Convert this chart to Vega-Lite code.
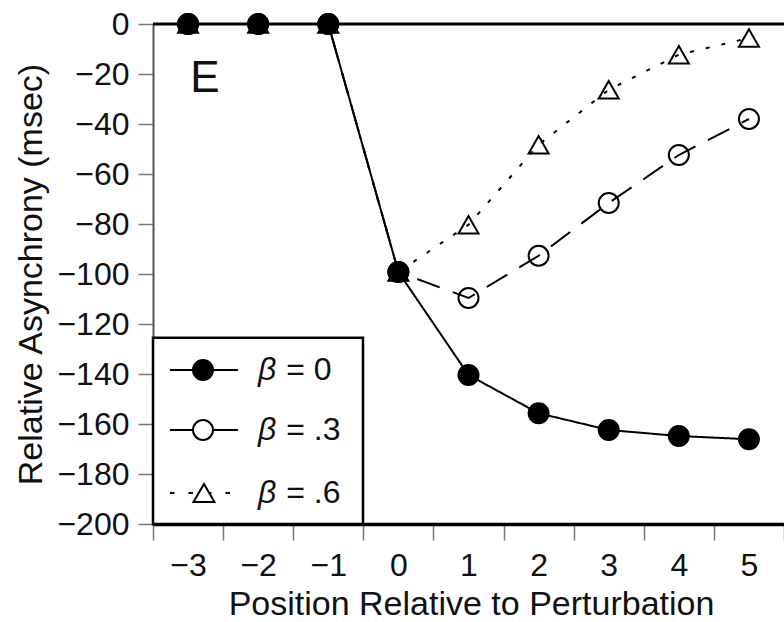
{
  "$schema": "https://vega.github.io/schema/vega-lite/v6.json",
  "width": 631,
  "height": 500,
  "autosize": {"type": "none"},
  "padding": {"left": 153, "top": 24, "right": 0, "bottom": 98},
  "background": "white",
  "config": {"view": {"stroke": null}, "font": "Liberation Sans"},
  "data": {
    "values": [
      {"x": -3, "y": 0, "beta": ".6"},
      {"x": -2, "y": 0, "beta": ".6"},
      {"x": -1, "y": 0, "beta": ".6"},
      {"x": 0, "y": -99.2, "beta": ".6"},
      {"x": 1, "y": -80.3, "beta": ".6"},
      {"x": 2, "y": -48.3, "beta": ".6"},
      {"x": 3, "y": -26.3, "beta": ".6"},
      {"x": 4, "y": -12.3, "beta": ".6"},
      {"x": 5, "y": -5.6, "beta": ".6"},
      {"x": -3, "y": 0, "beta": ".3"},
      {"x": -2, "y": 0, "beta": ".3"},
      {"x": -1, "y": 0, "beta": ".3"},
      {"x": 0, "y": -99.2, "beta": ".3"},
      {"x": 1, "y": -109.6, "beta": ".3"},
      {"x": 2, "y": -92.7, "beta": ".3"},
      {"x": 3, "y": -71.6, "beta": ".3"},
      {"x": 4, "y": -52.4, "beta": ".3"},
      {"x": 5, "y": -38, "beta": ".3"},
      {"x": -3, "y": 0, "beta": "0"},
      {"x": -2, "y": 0, "beta": "0"},
      {"x": -1, "y": 0, "beta": "0"},
      {"x": 0, "y": -99.2, "beta": "0"},
      {"x": 1, "y": -140.4, "beta": "0"},
      {"x": 2, "y": -155.7, "beta": "0"},
      {"x": 3, "y": -162.4, "beta": "0"},
      {"x": 4, "y": -164.8, "beta": "0"},
      {"x": 5, "y": -166.1, "beta": "0"}
    ]
  },
  "resolve": {"scale": {"x": "independent"}, "axis": {"x": "independent"}},
  "layer": [
    {
      "data": {"values": [{}]},
      "layer": [
        {
          "mark": {"type": "rule", "color": "black", "strokeWidth": 3},
          "encoding": {"y": {"datum": 0, "type": "quantitative"}}
        },
        {
          "mark": {"type": "text", "text": "E", "fontSize": 44, "font": "Liberation Sans", "color": "#111", "baseline": "middle", "align": "center"},
          "encoding": {
            "x": {"datum": -2.758, "type": "quantitative", "scale": {"domain": [-3.5, 5.5], "nice": false, "zero": false}, "axis": null},
            "y": {"datum": -22, "type": "quantitative"}
          }
        }
      ]
    },
    {
      "encoding": {
        "x": {
          "field": "x",
          "type": "ordinal",
          "sort": "ascending",
          "scale": {"type": "band", "domain": [-3, -2, -1, 0, 1, 2, 3, 4, 5], "paddingInner": 0, "paddingOuter": 0},
          "axis": {
            "title": "Position Relative to Perturbation",
            "tickBand": "extent",
            "format": "d",
            "formatType": "number",
            "labelAngle": 0,
            "tickSize": 16,
            "tickColor": "#777",
            "tickWidth": 1.5,
            "domainColor": "black",
            "domainWidth": 3.5,
            "grid": false,
            "labelFont": "Liberation Sans",
            "labelFontSize": 32,
            "labelColor": "#111",
            "labelPadding": 10,
            "labelOverlap": false,
            "titleFont": "Liberation Sans",
            "titleFontSize": 34,
            "titleFontWeight": "normal",
            "titleColor": "#111",
            "titleX": 318,
            "titlePadding": 6
          }
        },
        "y": {
          "field": "y",
          "type": "quantitative",
          "scale": {"domain": [-200, 0], "nice": false, "zero": false},
          "axis": {
            "title": "Relative Asynchrony (msec)",
            "values": [-200, -180, -160, -140, -120, -100, -80, -60, -40, -20, 0],
            "tickSize": 15,
            "tickColor": "#777",
            "tickWidth": 1.5,
            "domainColor": "#555",
            "domainWidth": 2,
            "grid": false,
            "labelFont": "Liberation Sans",
            "labelFontSize": 32,
            "labelColor": "#111",
            "labelPadding": 9,
            "labelOverlap": false,
            "labelFlush": false,
            "titleFont": "Liberation Sans",
            "titleFontSize": 34,
            "titleFontWeight": "normal",
            "titleColor": "#111",
            "titlePadding": 8
          }
        }
      },
      "layer": [
        {
          "mark": {"type": "line", "color": "black", "strokeWidth": 2},
          "encoding": {
            "strokeDash": {
              "field": "beta",
              "type": "nominal",
              "scale": {"domain": ["0", ".3", ".6"], "range": [[1, 0], [24, 14], [4, 12]]},
              "legend": null
            }
          }
        },
        {
          "mark": {"type": "point", "stroke": "black", "strokeWidth": 2, "size": 400, "opacity": 1},
          "encoding": {
            "fill": {
              "field": "beta",
              "type": "nominal",
              "scale": {"domain": ["0", ".3", ".6"], "range": ["black", "transparent", "transparent"]},
              "legend": null
            },
            "shape": {
              "field": "beta",
              "type": "nominal",
              "scale": {"domain": ["0", ".3", ".6"], "range": ["circle", "circle", "triangle-up"]},
              "legend": null
            }
          }
        }
      ]
    },
    {
      "data": {"values": [{}]},
      "encoding": {
        "x": {"type": "quantitative", "scale": {"domain": [-3.5, 5.5], "nice": false, "zero": false}, "axis": null}
      },
      "layer": [
        {
          "mark": {"type": "rect", "fill": "white", "stroke": "black", "strokeWidth": 2.5},
          "encoding": {
            "x": {"datum": -3.5, "type": "quantitative", "scale": {"domain": [-3.5, 5.5], "nice": false, "zero": false}, "axis": null},
            "x2": {"datum": -0.505},
            "y": {"datum": -125.5, "type": "quantitative"},
            "y2": {"datum": -200}
          }
        },
        {
          "mark": {"type": "rule", "color": "black", "strokeWidth": 2},
          "encoding": {
            "x": {"datum": -3.258, "type": "quantitative"},
            "x2": {"datum": -2.288},
            "y": {"datum": -138.4, "type": "quantitative"}
          }
        },
        {
          "mark": {"type": "rule", "color": "black", "strokeWidth": 2},
          "encoding": {
            "x": {"datum": -3.258, "type": "quantitative"},
            "x2": {"datum": -2.288},
            "y": {"datum": -162.4, "type": "quantitative"}
          }
        },
        {
          "mark": {"type": "rule", "color": "black", "strokeWidth": 2, "strokeDash": [4.5, 14]},
          "encoding": {
            "x": {"datum": -3.258, "type": "quantitative"},
            "x2": {"datum": -2.402},
            "y": {"datum": -187.6, "type": "quantitative"}
          }
        },
        {
          "mark": {"type": "point", "shape": "circle", "filled": true, "fill": "black", "stroke": "black", "strokeWidth": 2, "size": 400, "opacity": 1},
          "encoding": {
            "x": {"datum": -2.787, "type": "quantitative"},
            "y": {"datum": -138.4, "type": "quantitative"}
          }
        },
        {
          "mark": {"type": "point", "shape": "circle", "filled": true, "fill": "white", "stroke": "black", "strokeWidth": 2, "size": 400, "opacity": 1},
          "encoding": {
            "x": {"datum": -2.787, "type": "quantitative"},
            "y": {"datum": -162.4, "type": "quantitative"}
          }
        },
        {
          "mark": {"type": "point", "shape": "triangle-up", "filled": true, "fill": "white", "stroke": "black", "strokeWidth": 2, "size": 441, "opacity": 1},
          "encoding": {
            "x": {"datum": -2.773, "type": "quantitative"},
            "y": {"datum": -187.6, "type": "quantitative"}
          }
        },
        {
          "mark": {"type": "text", "text": "β", "fontStyle": "italic", "fontSize": 32, "font": "Liberation Sans", "color": "#111", "align": "left", "baseline": "middle"},
          "encoding": {
            "x": {"datum": -2.002, "type": "quantitative"},
            "y": {"datum": -138.4, "type": "quantitative"}
          }
        },
        {
          "mark": {"type": "text", "text": "= 0", "fontSize": 32, "font": "Liberation Sans", "color": "#111", "align": "left", "baseline": "middle"},
          "encoding": {
            "x": {"datum": -1.6, "type": "quantitative"},
            "y": {"datum": -138.4, "type": "quantitative"}
          }
        },
        {
          "mark": {"type": "text", "text": "β", "fontStyle": "italic", "fontSize": 32, "font": "Liberation Sans", "color": "#111", "align": "left", "baseline": "middle"},
          "encoding": {
            "x": {"datum": -2.002, "type": "quantitative"},
            "y": {"datum": -162.4, "type": "quantitative"}
          }
        },
        {
          "mark": {"type": "text", "text": "= .3", "fontSize": 32, "font": "Liberation Sans", "color": "#111", "align": "left", "baseline": "middle"},
          "encoding": {
            "x": {"datum": -1.6, "type": "quantitative"},
            "y": {"datum": -162.4, "type": "quantitative"}
          }
        },
        {
          "mark": {"type": "text", "text": "β", "fontStyle": "italic", "fontSize": 32, "font": "Liberation Sans", "color": "#111", "align": "left", "baseline": "middle"},
          "encoding": {
            "x": {"datum": -2.002, "type": "quantitative"},
            "y": {"datum": -187.6, "type": "quantitative"}
          }
        },
        {
          "mark": {"type": "text", "text": "= .6", "fontSize": 32, "font": "Liberation Sans", "color": "#111", "align": "left", "baseline": "middle"},
          "encoding": {
            "x": {"datum": -1.6, "type": "quantitative"},
            "y": {"datum": -187.6, "type": "quantitative"}
          }
        }
      ]
    }
  ]
}
